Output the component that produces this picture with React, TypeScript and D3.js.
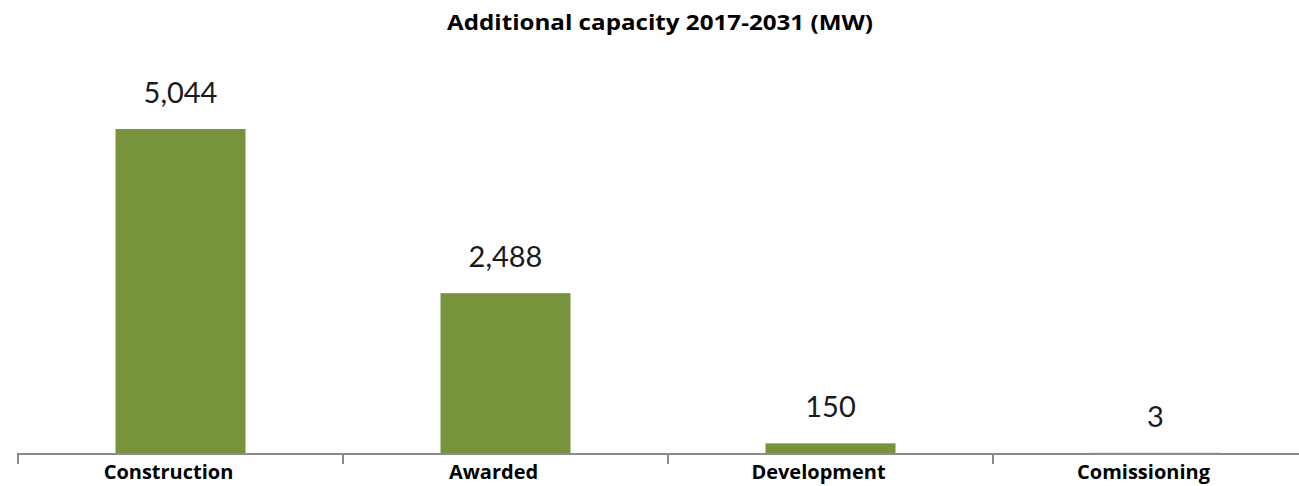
import React from "react";
import * as d3 from "d3";

const categories = ["Construction", "Awarded", "Development", "Comissioning"];
const values = [5044, 2488, 150, 3];
const title = "Additional capacity 2017-2031 (MW)";

const W = 1299;
const H = 486;

export default function App() {
  const x = d3.scaleBand<string>().domain(categories).range([18, 1318]).paddingInner(0.6).paddingOuter(0.3);
  const xb = d3.scaleBand<string>().domain(categories).range([18, 1318]);
  const y = d3.scaleLinear().domain([0, 5044]).range([453, 129]);
  const fmt = d3.format(",");
  const ticks = [...categories.map((c) => xb(c) as number), 1318];
  return (
    <svg width={W} height={H} style={{ position: "absolute", left: 0, top: 0, background: "#fff" }}>
      <text x={660} y={30} textAnchor="middle" fontFamily="Open Sans" fontWeight={700} fontSize={22} textLength={426} lengthAdjust="spacingAndGlyphs" fill="#000">
        {title}
      </text>
      {categories.map((c, i) => (
        <g key={c}>
          <rect x={x(c)} y={y(values[i])} width={x.bandwidth()} height={y(0) - y(values[i])} fill="#77933C" />
          <text
            x={(x(c) as number) + x.bandwidth() / 2}
            y={y(values[i]) - 26}
            textAnchor="middle"
            fontFamily="Lato"
            fontSize={29}
            fill="#1a1a1a"
          >
            {fmt(values[i])}
          </text>
          <text
            x={(x(c) as number) + x.bandwidth() / 2 - 12}
            y={479}
            textAnchor="middle"
            fontFamily="Open Sans"
            fontWeight={700}
            fontSize={20}
            fill="#000"
          >
            {c}
          </text>
        </g>
      ))}
      <line x1={17} x2={1299} y1={454} y2={454} stroke="#8c8c8c" strokeWidth={2} />
      {ticks.map((t, i) => (
        <line key={i} x1={t} x2={t} y1={454} y2={464} stroke="#8c8c8c" strokeWidth={2} />
      ))}
    </svg>
  );
}
